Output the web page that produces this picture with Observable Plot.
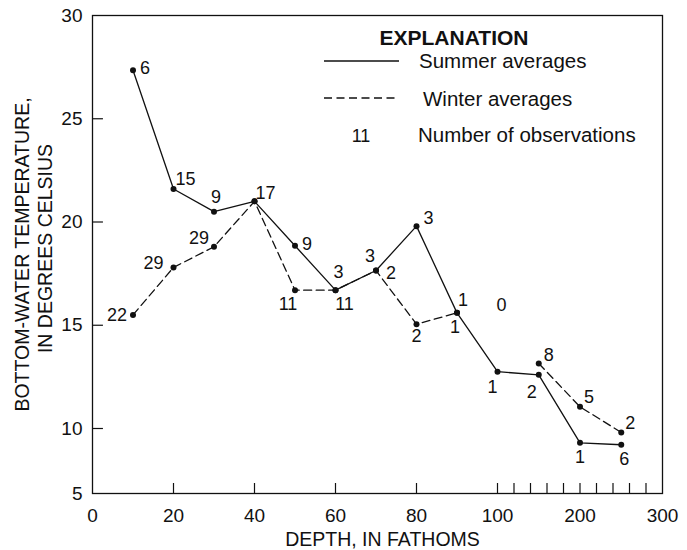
<!DOCTYPE html>
<html><head><meta charset="utf-8">
<script src="https://cdn.jsdelivr.net/npm/d3@7"></script>
<script src="https://cdn.jsdelivr.net/npm/@observablehq/plot@0.6"></script>
<style>
html,body{margin:0;padding:0;background:#fff}
#chart{width:687px;height:550px}
</style>
</head><body><div id="chart"></div>
<script>
// ---- data ----
const summerDepth = [10, 20, 30, 40, 50, 60, 70, 80, 90, 100, 150, 200, 250];
const summerTemp  = [27.35, 21.6, 20.5, 21.0, 18.85, 16.7, 17.65, 19.8, 15.6, 12.75, 12.6, 8.9, 8.75];
const summerCount = [6, 15, 9, 17, 9, 3, 3, 3, 1, 1, 2, 1, 6];

const winterDepth = [10, 20, 30, 40, 50, 60, 70, 80, 90, 100, 150, 200, 250];
const winterTemp  = [15.5, 17.8, 18.8, 21.0, 16.7, 16.7, 17.65, 15.05, 15.6, null, 13.15, 11.05, 9.7];
const winterCount = [22, 29, 29, null, 11, 11, 2, 2, 1, 0, 8, 5, 2];

const xTickLabels = [0, 20, 40, 60, 80, 100, 200, 300];
const xMinorTicks = [20, 40, 60, 80, 100, 120, 140, 160, 180, 200, 220, 240, 260, 280];
const yTickLabels = [5, 10, 15, 20, 25, 30];
const xBreaks = [0, 100, 300];   // axis is linear to 100, compressed 100-300
const yBreaks = [5, 10, 30];     // axis is compressed between 5 and 10

// ---- layout (label placement around each point, in px) ----
const summerLabelOffset = [[12,-2],[12,-10],[2,-14],[11,-8],[12,-2],[3,-18],[-6,-14],[12,-8],[6,-13],[-5,16],[-7,17],[0,14],[3,14]];
const winterLabelOffset = [[-16,0],[-20,-4],[-15,-9],null,[-7,14],[9,14],[15,3],[0,12],[-2,14],[4,-10],[10,-8],[9,-10],[9,-9]];
const noWinterLabelTemp = 15.5; // where the "0" (no winter observations at 100) sits

const W = 687, H = 550, mL = 92, mR = 25, mT = 15, mB = 57;
const font = "'Liberation Sans', Arial, Helvetica, sans-serif";

const summer = summerDepth.map((d, i) => ({depth: d, temp: summerTemp[i], n: summerCount[i], off: summerLabelOffset[i]}));
const winter = winterDepth.map((d, i) => ({depth: d, temp: winterTemp[i], n: winterCount[i], off: winterLabelOffset[i]}));

const labelMarks = [...summer, ...winter]
  .filter(d => d.n != null && d.off)
  .map(d => Plot.text([d], {
    x: "depth",
    y: e => (e.temp == null ? noWinterLabelTemp : e.temp),
    text: e => String(e.n),
    dx: d.off[0], dy: d.off[1],
    fontSize: 18, textAnchor: "middle", lineAnchor: "middle", fill: "#111"
  }));

const plot = Plot.plot({
  width: W, height: H,
  marginLeft: mL, marginRight: mR, marginTop: mT, marginBottom: mB,
  style: {fontFamily: font, fontSize: "19px", color: "#111", background: "#fff", overflow: "visible"},
  x: {type: "linear", domain: xBreaks, range: [mL, mL + 405, W - mR]},
  y: {type: "linear", domain: yBreaks, range: [H - mB, H - mB - 65, mT]},
  marks: [
    Plot.frame({stroke: "#111", strokeWidth: 1.3}),
    Plot.ruleY(yTickLabels.slice(1, -1), {y: d => d, x1: 0, x2: 2.7, stroke: "#111", strokeWidth: 1.2}),
    Plot.ruleX(xMinorTicks, {x: d => d, y1: 5, y2: 5.77, stroke: "#111", strokeWidth: 1.2}),
    Plot.axisX({ticks: xTickLabels, tickSize: 0, tickPadding: 15, fontSize: 19, tickFormat: d => String(d), label: null, fill: "#111"}),
    Plot.axisY({ticks: yTickLabels, tickSize: 0, tickPadding: 10, fontSize: 19, tickFormat: d => String(d), label: null, fill: "#111"}),
    Plot.line(summer, {x: "depth", y: "temp", stroke: "#111", strokeWidth: 1.3}),
    Plot.line(winter, {x: "depth", y: "temp", stroke: "#111", strokeWidth: 1.3, strokeDasharray: "8,4.5"}),
    Plot.dot(summer, {x: "depth", y: "temp", r: 3, fill: "#111", stroke: "none"}),
    Plot.dot(winter.filter(d => d.temp != null), {x: "depth", y: "temp", r: 3, fill: "#111", stroke: "none"}),
    ...labelMarks,
    Plot.text(["DEPTH, IN FATHOMS"], {frameAnchor: "bottom", dx: 5, dy: 46.5, fontSize: 19.5, textAnchor: "middle", lineAnchor: "middle", fill: "#111"}),
    Plot.text(["BOTTOM-WATER TEMPERATURE,"], {frameAnchor: "left", rotate: -90, dx: 22 - mL, dy: 0, fontSize: 19.5, textAnchor: "middle", lineAnchor: "middle", fill: "#111"}),
    Plot.text(["IN DEGREES CELSIUS"], {frameAnchor: "left", rotate: -90, dx: 45 - mL, dy: -6, fontSize: 19.5, textAnchor: "middle", lineAnchor: "middle", fill: "#111"})
  ]
});

// ---- explanation (legend) box inside the frame ----
const svg = d3.select(plot);
const lg = svg.append("g").attr("font-family", font).attr("fill", "#111").attr("text-anchor", "start");
lg.append("text").attr("x", 454).attr("y", 44.5).attr("text-anchor", "middle")
  .attr("font-weight", "bold").attr("font-size", 21).text("EXPLANATION");
lg.append("line").attr("x1", 324).attr("x2", 399).attr("y1", 61).attr("y2", 61)
  .attr("stroke", "#111").attr("stroke-width", 1.3);
lg.append("text").attr("x", 419).attr("y", 68).attr("text-anchor", "start").attr("font-size", 20.5).text("Summer averages");
lg.append("line").attr("x1", 324).attr("x2", 399).attr("y1", 98).attr("y2", 98)
  .attr("stroke", "#111").attr("stroke-width", 1.3).attr("stroke-dasharray", "8,4.5");
lg.append("text").attr("x", 423).attr("y", 106).attr("text-anchor", "start").attr("font-size", 20.5).text("Winter averages");
lg.append("text").attr("x", 361).attr("y", 142).attr("text-anchor", "middle").attr("font-size", 18).text("11");
lg.append("text").attr("x", 418).attr("y", 142).attr("text-anchor", "start").attr("font-size", 20.5).text("Number of observations");

document.getElementById("chart").appendChild(plot);
</script>
</body></html>
